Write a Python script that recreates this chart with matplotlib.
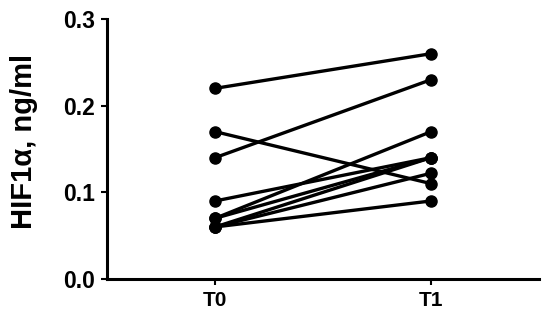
import matplotlib
matplotlib.use("Agg")
import matplotlib.pyplot as plt

# paired HIF1a values per subject, T0 -> T1
times = ["T0", "T1"]
t0 = [0.22, 0.17, 0.14, 0.09, 0.07, 0.07, 0.06, 0.06, 0.06]
t1 = [0.26, 0.11, 0.23, 0.14, 0.17, 0.14, 0.14, 0.122, 0.09]

plt.rcParams['font.family'] = ['Liberation Sans', 'DejaVu Sans']
plt.rcParams['font.weight'] = 'bold'

fig = plt.figure(figsize=(5.5, 3.12), dpi=100)
ax = fig.add_axes([0.195, 0.106, 0.785, 0.833])

for a, b in zip(t0, t1):
    ax.plot([0, 1], [a, b], color='black', lw=2.4, marker='o', ms=8,
            solid_capstyle='round', clip_on=False)

ax.set_xlim(-0.5, 1.5)
ax.set_ylim(0, 0.3)
ax.set_xticks([0, 1])
ax.set_xticklabels(times, fontsize=15, fontweight='bold')
ax.set_yticks([0.0, 0.1, 0.2, 0.3])
ax.set_yticklabels(["0.0", "0.1", "0.2", "0.3"], fontsize=16.5, fontweight='bold')
ax.set_ylabel("HIF1\u03b1, ng/ml", fontsize=21, fontweight='bold', labelpad=18, y=0.53)

for s in ['top', 'right']:
    ax.spines[s].set_visible(False)
for s in ['left', 'bottom']:
    ax.spines[s].set_linewidth(2.2)
ax.tick_params(width=1.5, length=4, pad=5)

fig.savefig("out.png", dpi=100)
